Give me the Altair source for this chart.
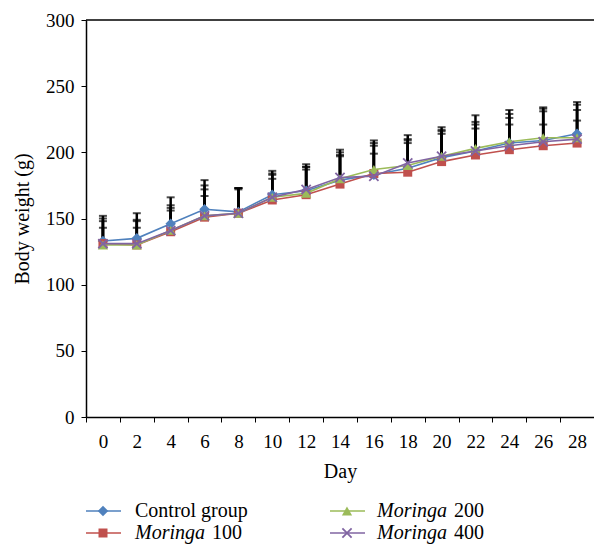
import altair as alt
import pandas as pd

days = [0, 2, 4, 6, 8, 10, 12, 14, 16, 18, 20, 22, 24, 26, 28]
series_names = ["Control group", "Moringa 100", "Moringa 200", "Moringa 400"]
control_mean = [133, 135, 146, 157, 155, 168, 171, 179, 183, 188, 196, 201, 207, 209, 214]
m100_mean = [131, 130, 140, 151, 154, 164, 168, 176, 184, 185, 193, 198, 202, 205, 207]
m200_mean = [130, 130, 141, 152, 154, 166, 169, 180, 187, 190, 197, 203, 208, 211, 211]
m400_mean = [131, 131, 141, 152, 154, 166, 172, 181, 182, 192, 197, 201, 205, 208, 210]
control_sd = [19, 19, 20, 22, 18, 18, 20, 23, 26, 25, 23, 27, 25, 25, 24]
m100_sd = [12, 13, 16, 16, 19, 16, 19, 21, 15, 22, 21, 20, 19, 16, 17]
m200_sd = [18, 18, 17, 20, 18, 17, 20, 18, 20, 20, 19, 18, 18, 20, 21]
m400_sd = [19, 18, 19, 23, 19, 18, 17, 19, 23, 17, 20, 22, 24, 25, 26]
y_ticks = [0, 50, 100, 150, 200, 250, 300]

colors = ["#4F81BD", "#C0504D", "#9BBB59", "#8064A2"]
shapes = ["diamond", "square", "triangle-up", "M-1,-1L1,1M-1,1L1,-1"]
sizes = [110, 81, 105, 85]
means = [control_mean, m100_mean, m200_mean, m400_mean]
sds = [control_sd, m100_sd, m200_sd, m400_sd]

FONT = "Liberation Serif"

rows = []
for name, mm, ss in zip(series_names, means, sds):
    for d, m, s in zip(days, mm, ss):
        rows.append({"series": name, "day": d, "mean": m, "upper": m + s})
df = pd.DataFrame(rows)

xenc = alt.X(
    "day:O",
    sort=days,
    scale=alt.Scale(type="band", paddingInner=0, paddingOuter=0),
    axis=alt.Axis(
        title="Day",
        tickBand="extent",
        labelAngle=0,
        tickSize=5,
        labelBaseline="alphabetic",
        labelPadding=25,
        titleBaseline="alphabetic",
        titleY=60,
        domainWidth=1.5,
    ),
)
yscale = alt.Scale(domain=[0, 300], nice=False)
yaxis = alt.Axis(
    values=y_ticks,
    title="Body weight (g)",
    tickSize=5,
    labelPadding=7,
    titleX=-64,
    titleY=198.5,
    titleBaseline="middle",
    domainWidth=1.5,
)

layers = []
# top border
layers.append(
    alt.Chart(pd.DataFrame({"v": [300]}))
    .mark_rule(color="black", strokeWidth=1.5)
    .encode(y=alt.Y("v:Q", scale=yscale, axis=yaxis))
)
# error bars
for name in series_names:
    sub = df[df.series == name]
    layers.append(
        alt.Chart(sub).mark_rule(color="black", strokeWidth=2.5).encode(
            x=xenc, y=alt.Y("mean:Q", scale=yscale, axis=yaxis), y2="upper:Q"
        )
    )
    layers.append(
        alt.Chart(sub).mark_tick(color="black", thickness=2, size=8, orient="horizontal").encode(
            x=xenc, y=alt.Y("upper:Q", scale=yscale, axis=yaxis)
        )
    )
# lines and markers
for name, c, sh, sz in zip(series_names, colors, shapes, sizes):
    sub = df[df.series == name]
    layers.append(
        alt.Chart(sub).mark_line(color=c, strokeWidth=1.6).encode(
            x=xenc, y=alt.Y("mean:Q", scale=yscale, axis=yaxis)
        )
    )
    if sh.startswith("M"):
        pt = alt.Chart(sub).mark_point(shape=sh, size=sz, filled=False, stroke=c, strokeWidth=1.8, opacity=1)
    else:
        pt = alt.Chart(sub).mark_point(shape=sh, size=sz, filled=True, color=c, opacity=1)
    layers.append(pt.encode(x=xenc, y=alt.Y("mean:Q", scale=yscale, axis=yaxis)))

# legend (layout positions in pixels relative to plot origin)
leg_pos = [
    # line_x0, line_x1, marker_x, text_x, num_x, line_y, text_y
    (0, 35, 17, 49, None, 491, 497),
    (0, 35, 17, 49, 126, 513, 519),
    (244, 279, 261, 291, 368, 491, 497),
    (244, 279, 261, 291, 368, 513, 519),
]
one = alt.Data(values=[{}])
for name, c, sh, sz, (lx0, lx1, mx, tx, nx, ly, ty) in zip(series_names, colors, shapes, sizes, leg_pos):
    layers.append(
        alt.Chart(one).mark_rule(color=c, strokeWidth=1.6).encode(
            x=alt.value(lx0), x2=alt.value(lx1), y=alt.value(ly)
        )
    )
    if sh.startswith("M"):
        pt = alt.Chart(one).mark_point(shape=sh, size=sz, filled=False, stroke=c, strokeWidth=1.8, opacity=1)
    else:
        pt = alt.Chart(one).mark_point(shape=sh, size=sz, filled=True, color=c, opacity=1)
    layers.append(pt.encode(x=alt.value(mx), y=alt.value(ly)))
    if name.startswith("Moringa"):
        word, num = name.split(" ")
        layers.append(
            alt.Chart(one).mark_text(font=FONT, fontSize=20, fontStyle="italic", align="left",
                                     baseline="alphabetic", color="black")
            .encode(x=alt.value(tx), y=alt.value(ty), text=alt.value(word))
        )
        layers.append(
            alt.Chart(one).mark_text(font=FONT, fontSize=20, align="left",
                                     baseline="alphabetic", color="black")
            .encode(x=alt.value(nx), y=alt.value(ty), text=alt.value(num))
        )
    else:
        layers.append(
            alt.Chart(one).mark_text(font=FONT, fontSize=20, align="left",
                                     baseline="alphabetic", color="black")
            .encode(x=alt.value(tx), y=alt.value(ty), text=alt.value(name))
        )

chart = (
    alt.layer(*layers)
    .properties(
        width=508,
        height=397,
        autosize=alt.AutoSizeParams(type="none"),
        padding={"left": 78, "top": 12, "right": 0, "bottom": 128},
    )
    .configure_view(stroke=None)
    .configure_axis(
        labelFont=FONT,
        labelFontSize=19,
        labelColor="black",
        titleFont=FONT,
        titleFontSize=20,
        titleFontWeight="normal",
        titleColor="black",
        domainColor="black",
        tickColor="black",
        grid=False,
    )
)

chart.save("out.html", embed_options={"renderer": "svg", "actions": False})
